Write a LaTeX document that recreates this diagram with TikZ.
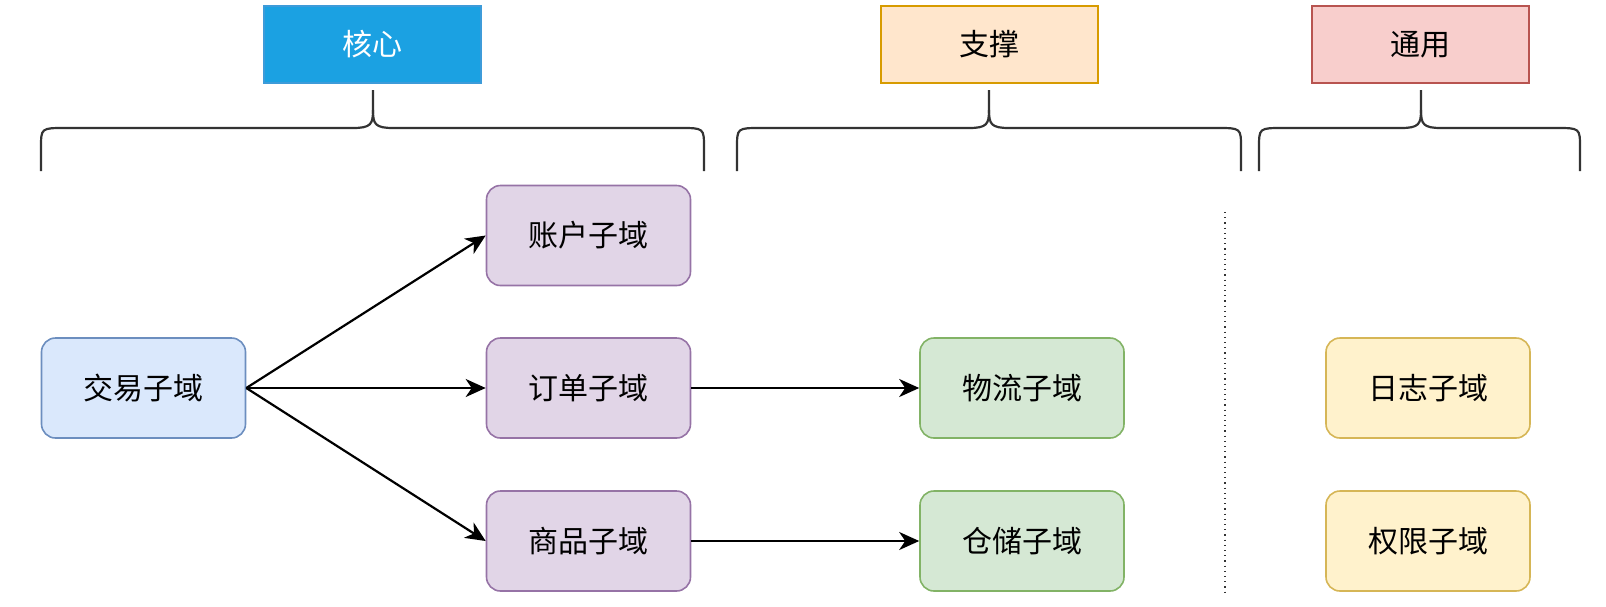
\documentclass[tikz,border=0pt]{standalone}
\usepackage{fontspec}
\setmainfont{Noto Sans CJK SC}
\usetikzlibrary{arrows.meta}
\definecolor{coreFill}{HTML}{1BA1E2}
\definecolor{coreLine}{HTML}{3D9BD9}
\definecolor{supFill}{HTML}{FFE6CC}
\definecolor{supLine}{HTML}{D79B00}
\definecolor{genFill}{HTML}{F8CECC}
\definecolor{genLine}{HTML}{B85450}
\definecolor{blueFill}{HTML}{DAE8FC}
\definecolor{blueLine}{HTML}{6C8EBF}
\definecolor{purFill}{HTML}{E1D5E7}
\definecolor{purLine}{HTML}{9673A6}
\definecolor{grnFill}{HTML}{D5E8D4}
\definecolor{grnLine}{HTML}{82B366}
\definecolor{ylwFill}{HTML}{FFF2CC}
\definecolor{ylwLine}{HTML}{D6B656}
\definecolor{braceCol}{HTML}{333333}
\newcommand{\drawbrace}[3]{%
  \draw[bracestyle] (#1,171) -- (#1,148) .. controls (#1,128) .. (#1+24,128)
    -- (#2-20,128) .. controls (#2-2,128) and (#2,124) .. (#2,110) -- (#2,90);
  \draw[bracestyle] (#2,110) .. controls (#2,124) and (#2+2,128) .. (#2+20,128)
    -- (#3-24,128) .. controls (#3,128) .. (#3,148) -- (#3,171);
}
\tikzset{
  txt/.style={font=\fontsize{15}{18}\selectfont},
  catbox/.style={txt, draw, line width=0.8pt, minimum width=108.5pt, minimum height=38.5pt, inner sep=0pt},
  subbox/.style={txt, draw, line width=0.8pt, rounded corners=7pt, minimum width=102pt, minimum height=50pt, inner sep=0pt},
  bracestyle/.style={draw=braceCol, line width=1.1pt},
  arr/.style={draw=black, line width=1.1pt, -{Stealth[length=10pt,width=9pt,inset=3pt]}},
  sep/.style={draw=braceCol, line width=0.6pt, dotted}
}
\begin{document}
\begin{tikzpicture}[x=0.5pt,y=-0.5pt]
\useasboundingbox (0,0) rectangle (1606,606);
% category boxes
\node[catbox, fill=coreFill, draw=coreLine, text=white] (core) at (372.5,44.5) {核心};
\node[catbox, fill=supFill, draw=supLine] (sup) at (989.5,44.5) {支撑};
\node[catbox, fill=genFill, draw=genLine] (gen) at (1420.5,44.5) {通用};
% braces
\drawbrace{41}{373}{704}
\drawbrace{737}{989}{1241}
\drawbrace{1259}{1421}{1580}
% sub-domain boxes
\node[subbox, fill=blueFill, draw=blueLine] (trade) at (143.5,388) {交易子域};
\node[subbox, fill=purFill, draw=purLine] (account) at (588.5,235.5) {账户子域};
\node[subbox, fill=purFill, draw=purLine] (order) at (588.5,388) {订单子域};
\node[subbox, fill=purFill, draw=purLine] (goods) at (588.5,541) {商品子域};
\node[subbox, fill=grnFill, draw=grnLine] (logi) at (1022,388) {物流子域};
\node[subbox, fill=grnFill, draw=grnLine] (store) at (1022,541) {仓储子域};
\node[subbox, fill=ylwFill, draw=ylwLine] (log) at (1428,388) {日志子域};
\node[subbox, fill=ylwFill, draw=ylwLine] (perm) at (1428,541) {权限子域};
% separator
\coordinate (sepTop) at (1225,212);
\coordinate (sepBot) at (1225,592);
\draw[sep] (sepTop) -- (sepBot);
% arrows
\draw[arr] (trade.east) -- (account.west);
\draw[arr] (trade.east) -- (order.west);
\draw[arr] (trade.east) -- (goods.west);
\draw[arr] (order.east) -- (logi.west);
\draw[arr] (goods.east) -- (store.west);
\end{tikzpicture}
\end{document}
